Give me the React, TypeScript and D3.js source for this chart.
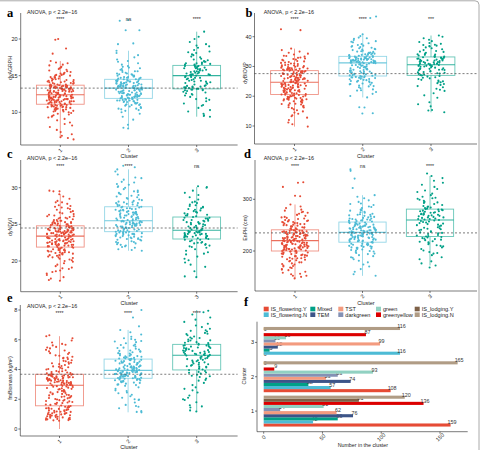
import React from 'react';
import * as d3 from 'd3';

// ---- shared categories / palette ----
const clusters = ['1', '2', '3'];
const clusterColors = ['#E64B35', '#4DBBD5', '#00A087'];
const anovaText = 'ANOVA, p < 2.2e\u221216';

// ---- a: dyAGRPH ----
const agrphC1 = [
  6.3, 6.5, 6.6, 6.8, 7.0, 7.3, 7.6, 8.0, 8.2, 8.4, 8.6, 8.9, 9.1, 9.3, 9.4, 9.5, 9.6, 9.7, 9.8, 9.9,
  10.0, 10.1, 10.1, 10.2, 10.2, 10.3, 10.3, 10.4, 10.4, 10.5, 10.5, 10.6, 10.6, 10.6, 10.7, 10.7, 10.8, 10.8, 10.8, 10.9,
  10.9, 10.9, 11.0, 11.0, 11.0, 11.0, 11.1, 11.1, 10.7, 10.4,
  11.2, 11.2, 11.2, 11.3, 11.3, 11.3, 11.4, 11.4, 11.4, 11.5, 11.5, 11.5, 11.5, 11.6, 11.6, 11.6, 11.7, 11.7, 11.7, 11.8,
  11.8, 11.8, 11.8, 11.9, 11.9, 11.9, 12.0, 12.0, 12.0, 12.0, 12.1, 12.1, 12.1, 12.2, 12.2, 12.2, 12.3, 12.3, 12.3, 12.4,
  11.6, 11.9, 12.1, 11.3, 12.2, 11.7, 12.0, 11.5, 12.4, 11.8,
  12.5, 12.5, 12.5, 12.6, 12.6, 12.6, 12.7, 12.7, 12.7, 12.8, 12.8, 12.8, 12.9, 12.9, 12.9, 13.0, 13.0, 13.0, 13.1, 13.1,
  13.1, 13.2, 13.2, 13.2, 13.3, 13.3, 13.3, 13.4, 13.4, 13.4, 13.5, 13.5, 13.5, 13.6, 13.6, 13.6, 13.7, 13.7, 12.6, 12.9,
  13.2, 13.5, 12.7, 13.0, 13.4, 12.8, 13.1, 13.3, 12.5, 13.6,
  13.8, 13.8, 13.9, 13.9, 14.0, 14.0, 14.1, 14.1, 14.2, 14.2, 14.3, 14.3, 14.4, 14.4, 14.5, 14.5, 14.6, 14.7, 14.8, 14.9,
  15.0, 15.0, 15.1, 15.2, 15.3, 15.4, 15.5, 15.6, 15.7, 15.8, 15.9, 16.0, 16.1, 16.2, 16.4, 16.5, 16.7, 16.8, 17.0, 13.8,
  14.0, 14.2, 14.6, 15.1, 18.0, 18.7, 19.9, 20.0, 14.8, 15.3,
];
const agrphC2 = [
  7.8, 7.9, 8.3, 9.0, 9.4, 9.8, 10.0, 10.2, 10.4, 10.5, 10.5, 10.6, 10.7, 10.8, 10.9, 11.0, 11.0, 11.1, 11.1, 11.2,
  11.2, 11.3, 11.3, 11.4, 11.4, 11.5, 11.5, 11.5, 11.6, 11.6, 11.6, 11.7, 11.7, 11.7, 11.8, 11.8, 11.8, 11.9, 11.9, 10.3, 11.0,
  12.0, 12.0, 12.0, 12.1, 12.1, 12.1, 12.2, 12.2, 12.2, 12.3, 12.3, 12.3, 12.4, 12.4, 12.4, 12.5, 12.5, 12.5, 12.6, 12.6,
  12.6, 12.7, 12.7, 12.7, 12.8, 12.8, 12.8, 12.9, 12.9, 12.9, 13.0, 13.0, 13.0, 13.1, 13.1, 13.1, 13.2, 13.2, 13.3, 12.6, 12.4,
  13.4, 13.4, 13.4, 13.5, 13.5, 13.5, 13.6, 13.6, 13.6, 13.7, 13.7, 13.7, 13.8, 13.8, 13.8, 13.9, 13.9, 13.9, 14.0, 14.0,
  14.0, 14.1, 14.1, 14.1, 14.2, 14.2, 14.2, 14.3, 14.3, 14.3, 14.4, 14.4, 14.4, 14.5, 14.5, 13.6, 13.9, 14.2, 13.5, 14.0, 14.3,
  14.6, 14.6, 14.7, 14.7, 14.8, 14.8, 14.9, 15.0, 15.0, 15.1, 15.2, 15.3, 15.3, 15.4, 15.5, 15.6, 15.7, 15.8, 15.9, 16.0,
  16.2, 16.3, 16.5, 16.7, 16.9, 17.0, 17.2, 17.5, 17.8, 18.1, 18.4, 14.9, 15.2, 15.6, 16.1, 19.3, 19.4, 21.2, 21.2, 22.5, 22.6, 14.7,
];
const agrphC3 = [
  9.4, 9.5, 9.6, 9.8, 10.3, 10.6, 10.9, 11.0, 11.2, 11.5, 11.7, 11.9, 12.1, 12.3, 12.4, 12.6, 12.7, 12.8, 12.9, 13.0,
  13.0, 13.1, 13.1, 13.2, 13.2, 12.5, 11.8, 13.1, 10.1,
  13.3, 13.3, 13.4, 13.4, 13.5, 13.5, 13.6, 13.7, 13.8, 13.9, 14.0, 14.0, 14.1, 14.2, 14.3, 14.3, 14.4, 14.5, 14.5, 14.6,
  14.7, 14.7, 14.8, 14.9, 15.0, 13.6, 14.2, 14.8, 13.4,
  15.0, 15.1, 15.1, 15.2, 15.2, 15.3, 15.3, 15.4, 15.5, 15.5, 15.6, 15.6, 15.7, 15.7, 15.8, 15.9, 15.9, 16.0, 16.0, 16.1,
  16.2, 16.2, 16.3, 16.3, 16.4, 15.4, 15.8, 16.1, 15.2,
  16.5, 16.5, 16.6, 16.6, 16.7, 16.8, 16.9, 17.0, 17.1, 17.3, 17.5, 17.6, 17.8, 17.9, 18.1, 18.2, 18.3, 18.5, 18.8, 19.0,
  19.1, 19.3, 19.6, 20.0, 20.3, 21.0, 16.7, 17.2, 16.9,
];
// [lower whisker, Q1, median, Q3, upper whisker] per cluster
const agrphBoxes = [[6.6, 11.1, 12.4, 13.7, 17.0], [7.8, 11.9, 13.3, 14.5, 18.4], [9.4, 13.2, 15.0, 16.4, 21.0]];
const agrphOverall = 13.3;
const agrphTicks = [10, 15, 20];
const agrphSig = ['****', 'ns', '****'];

// ---- b: dyBIOVP ----
const biovpC1 = [
  9.8, 10.6, 11.2, 12.0, 12.8, 13.3, 13.6, 14.1, 14.5, 14.9, 15.3, 15.6, 16.0, 16.2, 16.5, 16.8, 17.0, 17.2, 17.4, 17.6,
  17.8, 18.0, 18.2, 18.3, 18.5, 18.6, 18.8, 18.9, 19.0, 19.1, 19.2, 19.3, 19.4, 19.5, 19.6, 19.7, 19.8, 19.9, 20.0, 20.1,
  20.2, 20.3, 20.4, 20.5, 20.6, 19.0, 17.5, 16.3, 20.2, 18.7,
  20.7, 20.8, 20.9, 21.0, 21.1, 21.2, 21.3, 21.4, 21.5, 21.6, 21.7, 21.8, 21.9, 22.0, 22.1, 22.2, 22.3, 22.4, 22.5, 22.6,
  22.7, 22.8, 22.9, 23.0, 23.1, 23.2, 23.3, 23.4, 23.5, 23.6, 23.7, 23.8, 23.9, 24.0, 24.1, 24.2, 24.3, 24.4, 24.5, 24.6,
  24.7, 21.5, 22.3, 23.1, 23.9, 24.4, 22.8, 21.9, 24.0, 23.5,
  24.8, 24.9, 25.0, 25.1, 25.2, 25.3, 25.4, 25.5, 25.6, 25.7, 25.8, 25.9, 26.0, 26.1, 26.2, 26.3, 26.4, 26.5, 26.6, 26.7,
  26.8, 26.9, 27.0, 27.1, 27.2, 27.3, 27.4, 27.5, 27.6, 27.7, 27.8, 27.9, 28.0, 28.1, 28.2, 28.3, 28.4, 28.5, 28.6, 25.2,
  26.0, 26.8, 27.5, 28.2, 25.6, 24.9, 27.1, 26.4, 28.5, 25.9,
  28.7, 28.8, 28.9, 29.0, 29.1, 29.2, 29.3, 29.4, 29.5, 29.6, 29.8, 30.0, 30.2, 30.4, 30.6, 30.8, 31.0, 31.2, 31.5, 31.8,
  32.0, 32.2, 32.5, 32.7, 33.0, 33.3, 33.6, 34.0, 34.3, 34.6, 35.0, 35.5, 36.0, 29.0, 29.4, 29.9, 30.5, 31.0, 31.7, 32.3,
  32.9, 33.5, 28.9, 29.7, 30.3, 31.3, 42.2, 42.5, 30.1, 29.2,
];
const biovpC2 = [
  14.2, 14.3, 16.2, 16.3, 19.6, 20.1, 20.8, 21.4, 21.9, 22.3, 22.7, 23.0, 23.3, 23.6, 23.9, 24.1, 24.3, 24.5, 24.7, 24.9,
  25.1, 25.2, 25.4, 25.5, 25.7, 25.8, 25.9, 26.0, 26.1, 26.2, 26.3, 26.4, 26.5, 26.6, 26.7, 26.8, 22.0, 24.0, 25.0, 26.4, 23.4,
  26.9, 27.0, 27.1, 27.2, 27.4, 27.5, 27.6, 27.8, 27.9, 28.0, 28.2, 28.3, 28.4, 28.6, 28.7, 28.8, 29.0, 29.1, 29.2, 29.4,
  29.5, 29.6, 29.8, 29.9, 30.0, 30.2, 30.3, 30.4, 30.6, 30.7, 30.8, 31.0, 31.1, 31.2, 27.3, 28.1, 28.9, 29.7, 30.5, 31.1, 27.7,
  31.3, 31.3, 31.4, 31.4, 31.5, 31.5, 31.6, 31.6, 31.7, 31.7, 31.8, 31.8, 31.9, 31.9, 32.0, 32.0, 32.1, 32.1, 32.2, 32.2,
  32.3, 32.4, 32.4, 32.5, 32.6, 32.6, 32.7, 32.8, 32.8, 32.9, 33.0, 33.0, 33.1, 33.2, 33.2, 33.3, 33.4, 31.5, 32.3, 32.9, 31.9,
  33.5, 33.6, 33.7, 33.8, 33.9, 34.0, 34.1, 34.3, 34.5, 34.7, 34.9, 35.1, 35.3, 35.5, 35.7, 35.9, 36.1, 36.3, 36.6, 36.9,
  37.2, 37.5, 37.8, 38.1, 38.5, 38.9, 39.3, 39.7, 40.2, 40.8, 34.2, 35.0, 35.8, 36.5, 37.0, 33.9, 34.6, 46.3, 46.8, 38.3, 39.5, 34.4,
];
const biovpC3 = [
  14.6, 15.2, 15.4, 16.6, 17.3, 18.0, 19.5, 20.3, 21.0, 21.8, 22.5, 23.0, 23.4, 23.8, 24.1, 24.4, 24.7, 25.0, 25.3, 25.5,
  25.8, 26.0, 26.2, 26.4, 26.6, 26.8, 27.0, 22.2, 24.9,
  27.1, 27.3, 27.5, 27.7, 27.9, 28.1, 28.3, 28.5, 28.7, 28.8, 29.0, 29.1, 29.3, 29.4, 29.6, 29.7, 29.9, 30.0, 30.1, 30.2,
  30.3, 30.4, 30.5, 30.6, 28.0, 29.2, 30.2, 27.6, 28.9,
  30.7, 30.8, 30.9, 31.0, 31.1, 31.2, 31.3, 31.4, 31.5, 31.6, 31.7, 31.8, 31.9, 32.0, 32.1, 32.2, 32.3, 32.4, 32.5, 32.6,
  32.7, 32.8, 32.9, 33.0, 33.1, 33.2, 31.5, 32.0, 30.9,
  33.3, 33.4, 33.5, 33.7, 33.9, 34.1, 34.3, 34.6, 34.9, 35.2, 35.5, 35.8, 36.1, 36.4, 36.7, 37.0, 37.3, 37.6, 37.9, 38.2,
  38.5, 39.0, 39.5, 40.0, 40.4, 34.0, 35.0, 36.9, 37.2,
];
const biovpBoxes = [[9.8, 20.6, 24.7, 28.6, 36.0], [19.6, 26.8, 31.2, 33.4, 40.8], [14.6, 27.0, 30.6, 33.2, 40.4]];
const biovpOverall = 27.6;
const biovpTicks = [10, 20, 30, 40];
const biovpSig = ['****', '****', '***'];

// ---- c: dyNDVI ----
const ndviC1 = [
  17.3, 17.4, 17.6, 17.8, 18.1, 18.3, 18.5, 18.7, 18.9, 19.1, 19.3, 19.5, 19.7, 19.9, 20.0, 20.1, 20.2, 20.3, 20.4, 20.5,
  20.6, 20.7, 20.8, 20.9, 21.0, 21.0, 21.1, 21.1, 21.2, 21.2, 21.3, 21.3, 21.4, 21.4, 21.5, 21.5, 21.6, 21.6, 21.7, 21.7,
  21.8, 21.8, 21.9, 21.9, 19.0, 20.5, 21.2, 18.6, 20.8, 21.5,
  22.0, 22.0, 22.0, 22.1, 22.1, 22.1, 22.2, 22.2, 22.2, 22.3, 22.3, 22.3, 22.4, 22.4, 22.4, 22.5, 22.5, 22.5, 22.6, 22.6,
  22.6, 22.7, 22.7, 22.7, 22.8, 22.8, 22.8, 22.9, 22.9, 22.9, 23.0, 23.0, 23.0, 23.1, 23.1, 23.1, 23.2, 23.2, 23.2, 23.3,
  23.3, 23.3, 23.4, 23.4, 22.5, 22.9, 23.2, 22.2, 22.7, 23.0,
  23.5, 23.5, 23.5, 23.6, 23.6, 23.6, 23.7, 23.7, 23.7, 23.8, 23.8, 23.8, 23.9, 23.9, 23.9, 24.0, 24.0, 24.0, 24.1, 24.1,
  24.1, 24.2, 24.2, 24.2, 24.3, 24.3, 24.3, 24.4, 24.4, 24.4, 24.5, 24.5, 24.5, 24.6, 24.6, 24.6, 24.7, 24.7, 24.7, 24.8,
  24.8, 23.6, 24.0, 24.4, 23.8, 24.2, 24.6, 23.9, 24.3, 24.1,
  24.9, 24.9, 25.0, 25.0, 25.1, 25.1, 25.2, 25.2, 25.3, 25.4, 25.5, 25.6, 25.7, 25.8, 25.9, 26.0, 26.1, 26.2, 26.4, 26.6,
  26.8, 27.0, 27.2, 27.4, 27.6, 27.8, 28.0, 28.2, 28.5, 28.8, 29.1, 25.0, 25.3, 25.6, 25.9, 26.3, 26.7, 27.1, 27.5, 28.0,
  25.2, 25.5, 25.8, 26.1, 26.5, 29.5, 29.6, 29.5, 25.4, 27.3,
];
const ndviC2 = [
  21.4, 21.5, 21.6, 21.8, 22.0, 22.1, 22.3, 22.4, 22.5, 22.6, 22.7, 22.8, 22.9, 23.0, 23.0, 23.1, 23.2, 23.2, 23.3, 23.4,
  23.4, 23.5, 23.5, 23.6, 23.6, 23.7, 23.7, 23.8, 23.8, 23.9, 23.9, 24.0, 24.0, 22.2, 22.9, 23.3, 23.7, 21.9, 22.6, 23.1, 23.9,
  24.1, 24.1, 24.2, 24.2, 24.3, 24.3, 24.4, 24.4, 24.5, 24.5, 24.6, 24.6, 24.7, 24.7, 24.8, 24.8, 24.9, 24.9, 25.0, 25.0,
  25.1, 25.1, 25.2, 25.2, 25.3, 25.3, 25.4, 25.4, 25.5, 25.5, 24.3, 24.6, 24.9, 25.2, 24.1, 24.7, 25.0, 25.4, 24.4, 24.8, 25.1,
  25.6, 25.7, 25.8, 25.9, 26.0, 26.1, 26.2, 26.3, 26.4, 26.5, 26.6, 26.7, 26.8, 26.9, 27.0, 27.1, 27.2, 27.3, 27.4, 25.7,
  25.9, 26.1, 26.3, 26.5, 26.7, 26.9, 27.1, 27.3, 25.6, 25.8, 26.0, 26.2, 26.4, 26.6, 26.8, 27.0, 27.2, 27.4, 26.3, 25.9, 26.6,
  27.5, 27.6, 27.7, 27.8, 27.9, 28.0, 28.1, 28.2, 28.4, 28.6, 28.8, 29.0, 29.2, 29.4, 29.6, 29.8, 30.0, 30.2, 30.5, 30.8,
  31.1, 31.4, 31.8, 32.2, 32.5, 33.0, 32.8, 27.6, 27.9, 28.3, 28.7, 29.1, 29.5, 30.1, 30.7, 31.3, 27.7, 28.0, 28.5, 29.3, 30.4, 28.9,
];
const ndviC3 = [
  17.8, 17.9, 18.6, 19.2, 19.8, 20.3, 20.6, 20.9, 21.2, 21.4, 21.6, 21.8, 22.0, 22.1, 22.2, 22.3, 22.4, 22.5, 22.6, 22.7,
  22.8, 22.9, 23.0, 21.0, 22.5, 19.5, 20.1, 22.9, 21.9,
  23.1, 23.1, 23.2, 23.2, 23.3, 23.3, 23.4, 23.4, 23.5, 23.5, 23.6, 23.6, 23.7, 23.7, 23.8, 23.8, 23.9, 23.9, 24.0, 24.0,
  24.1, 24.1, 24.2, 24.2, 23.4, 23.7, 24.0, 23.3, 23.9,
  24.3, 24.4, 24.5, 24.6, 24.7, 24.8, 24.9, 25.0, 25.1, 25.2, 25.3, 25.4, 25.5, 25.6, 25.7, 25.8, 25.9, 26.0, 24.4, 24.7,
  25.0, 25.3, 25.6, 25.9, 24.6, 25.1, 25.5, 24.3, 25.8,
  26.1, 26.2, 26.3, 26.5, 26.7, 26.9, 27.1, 27.3, 27.5, 27.7, 27.9, 28.1, 28.4, 28.7, 29.0, 29.3, 29.6, 30.0, 30.1, 30.2,
  26.4, 26.8, 27.2, 27.6, 28.0, 26.6, 27.0, 27.4, 26.2,
];
const ndviBoxes = [[17.3, 21.9, 23.4, 24.8, 29.1], [21.4, 24.0, 25.5, 27.4, 32.5], [17.8, 23.0, 24.2, 26.0, 30.1]];
const ndviOverall = 24.5;
const ndviTicks = [20, 25, 30];
const ndviSig = ['****', '****', 'ns'];

// ---- d: EnPH (cm) ----
const enphC1 = [
  147, 150, 152, 155, 158, 160, 163, 165, 167, 170, 172, 174, 176, 178, 180, 182, 183, 185, 186, 188,
  189, 190, 191, 192, 193, 194, 195, 196, 197, 198, 199, 200, 152, 168, 175, 181, 187, 192, 196, 199,
  184, 178, 190, 194, 171, 164, 156, 186, 197, 200,
  201, 201, 202, 203, 203, 204, 205, 205, 206, 207, 207, 208, 209, 209, 210, 211, 211, 212, 213, 213,
  214, 215, 215, 216, 217, 217, 218, 219, 219, 220, 202, 204, 206, 208, 210, 212, 214, 216, 218, 220,
  203, 207, 211, 215, 219, 205, 209, 213, 217, 210,
  221, 221, 222, 223, 223, 224, 225, 225, 226, 227, 227, 228, 229, 229, 230, 231, 231, 232, 233, 233,
  234, 235, 235, 236, 237, 237, 238, 239, 239, 240, 241, 222, 224, 226, 228, 230, 232, 234, 236, 238,
  240, 223, 227, 231, 235, 239, 225, 229, 233, 237,
  242, 243, 244, 245, 246, 247, 248, 249, 250, 251, 252, 253, 254, 255, 256, 257, 258, 259, 260, 262,
  264, 266, 268, 270, 272, 274, 276, 278, 280, 283, 286, 290, 244, 248, 252, 256, 260, 265, 270, 275,
  246, 250, 254, 258, 263, 306, 307, 324, 333, 332,
];
const enphC2 = [
  152, 155, 160, 165, 170, 174, 178, 181, 184, 187, 190, 192, 194, 196, 198, 200, 202, 203, 204, 205,
  206, 207, 208, 209, 210, 211, 212, 213, 214, 215, 216, 217, 195, 201, 206, 210, 214, 188, 199, 208, 213,
  218, 218, 219, 220, 220, 221, 222, 222, 223, 224, 224, 225, 226, 226, 227, 228, 228, 229, 230, 230,
  231, 232, 232, 233, 234, 234, 235, 236, 236, 219, 221, 223, 225, 227, 229, 231, 233, 235, 227, 230, 233,
  237, 238, 238, 239, 240, 240, 241, 242, 242, 243, 244, 244, 245, 246, 246, 247, 248, 248, 249, 250,
  251, 252, 253, 254, 255, 256, 239, 241, 243, 245, 247, 249, 251, 253, 255, 240, 244, 248, 252, 238, 246,
  257, 258, 259, 260, 261, 262, 263, 264, 266, 268, 270, 272, 274, 276, 278, 280, 283, 286, 289, 292,
  295, 298, 302, 305, 308, 259, 263, 267, 271, 275, 279, 285, 291, 260, 265, 270, 322, 340, 355, 358, 261, 269,
];
const enphC3 = [
  168, 172, 176, 180, 184, 188, 192, 195, 198, 201, 204, 207, 209, 211, 213, 215, 217, 219, 221, 223,
  224, 225, 226, 227, 228, 196, 210, 218, 222,
  229, 230, 231, 233, 234, 235, 237, 238, 240, 241, 242, 244, 245, 246, 248, 249, 250, 252, 253, 254,
  256, 257, 258, 259, 260, 236, 243, 251, 255,
  261, 262, 263, 264, 265, 266, 267, 268, 269, 270, 271, 272, 273, 274, 275, 276, 277, 278, 279, 280,
  281, 262, 265, 268, 271, 274, 277, 280, 270,
  282, 283, 284, 285, 287, 289, 291, 293, 295, 297, 299, 301, 303, 305, 308, 311, 314, 317, 320, 324,
  328, 332, 336, 341, 345, 350, 286, 294, 302,
];
const enphBoxes = [[147, 200, 220, 241, 290], [152, 217, 236, 256, 308], [172, 228, 260, 281, 345]];
const enphOverall = 235;
const enphTicks = [200, 300];
const enphSig = ['****', 'ns', '****'];

// ---- e: fmBiomass ----
const biomassC1 = [
  0.55, 0.58, 0.62, 0.65, 0.68, 0.72, 0.75, 0.78, 0.82, 0.85, 0.88, 0.92, 0.95, 0.98, 1.02, 1.05, 1.08, 1.12, 1.15, 1.18,
  1.22, 1.25, 1.28, 1.32, 1.35, 1.38, 1.42, 1.45, 1.48, 1.52, 1.55, 0.6, 0.7, 0.8, 0.9, 1.0, 1.1, 1.2, 1.3, 1.4,
  1.5, 0.66, 0.86, 1.06, 1.26, 1.46, 0.76, 0.96, 1.16, 1.36,
  1.58, 1.62, 1.65, 1.70, 1.74, 1.78, 1.82, 1.86, 1.90, 1.94, 1.98, 2.02, 2.06, 2.10, 2.14, 2.18, 2.22, 2.26, 2.30, 2.34,
  2.38, 2.42, 2.46, 2.50, 2.54, 2.58, 2.62, 2.66, 2.70, 2.74, 2.78, 2.82, 2.86, 2.90, 2.94, 1.68, 1.88, 2.08, 2.28, 2.48,
  2.68, 2.88, 1.76, 1.96, 2.16, 2.36, 2.56, 2.76, 2.92, 2.84,
  2.96, 2.98, 3.00, 3.02, 3.04, 3.06, 3.08, 3.10, 3.12, 3.14, 3.16, 3.18, 3.20, 3.22, 3.24, 3.26, 3.28, 3.30, 3.32, 3.34,
  3.36, 3.38, 3.40, 3.42, 3.44, 3.46, 3.48, 3.50, 3.52, 3.54, 3.56, 3.58, 3.60, 3.62, 3.64, 3.66, 3.68, 3.05, 3.15, 3.25,
  3.35, 3.45, 3.55, 3.65, 2.97, 3.11, 3.29, 3.47, 3.61, 3.39,
  3.72, 3.76, 3.80, 3.85, 3.90, 3.95, 4.00, 4.06, 4.12, 4.18, 4.24, 4.30, 4.36, 4.42, 4.48, 4.55, 4.62, 4.70, 4.78, 4.86,
  4.95, 5.04, 5.13, 5.22, 5.32, 5.42, 5.52, 5.62, 5.72, 5.82, 5.95, 6.10, 6.24, 3.74, 3.88, 4.03, 4.21, 4.39, 4.58, 4.75,
  4.92, 5.10, 5.28, 5.48, 5.66, 3.83, 4.15, 4.45, 4.80, 6.30,
];
const biomassC2 = [
  1.12, 1.15, 1.20, 1.40, 1.55, 1.62, 1.78, 1.95, 2.00, 2.10, 2.30, 2.45, 2.55, 2.70, 2.80, 2.90, 2.98, 3.05, 3.10, 3.15,
  3.18, 3.21, 3.24, 3.27, 3.30, 3.33, 3.36, 3.39, 3.41, 2.20, 2.60, 2.95, 3.20, 3.35, 1.50, 2.40, 3.00, 3.12, 3.28, 3.38, 1.98,
  3.43, 3.45, 3.47, 3.49, 3.51, 3.53, 3.55, 3.57, 3.59, 3.61, 3.63, 3.65, 3.67, 3.69, 3.71, 3.73, 3.75, 3.77, 3.79, 3.81,
  3.83, 3.85, 3.87, 3.89, 3.91, 3.93, 3.94, 3.50, 3.60, 3.70, 3.80, 3.90, 3.46, 3.56, 3.66, 3.76, 3.86, 3.64, 3.74, 3.84, 3.54,
  3.96, 3.98, 4.00, 4.02, 4.04, 4.06, 4.08, 4.10, 4.12, 4.14, 4.16, 4.18, 4.20, 4.23, 4.26, 4.29, 4.32, 4.35, 4.38, 4.41,
  4.44, 4.47, 4.50, 4.53, 4.56, 4.59, 4.62, 4.65, 4.68, 4.70, 4.05, 4.15, 4.25, 4.35, 4.45, 4.55, 4.65, 4.01, 4.22, 4.43, 4.64,
  4.72, 4.75, 4.78, 4.82, 4.86, 4.90, 4.95, 5.00, 5.05, 5.10, 5.16, 5.22, 5.28, 5.34, 5.40, 5.47, 5.54, 5.61, 5.68, 5.76,
  5.84, 5.92, 6.00, 6.10, 6.20, 6.35, 6.50, 6.66, 4.80, 4.93, 5.08, 5.25, 5.45, 5.65, 5.88, 6.05, 4.74, 4.88, 6.90, 7.50, 8.00, 5.20,
];
const biomassC3 = [
  1.18, 1.25, 1.45, 1.60, 1.80, 1.95, 2.10, 2.25, 2.45, 2.60, 2.80, 2.95, 3.10, 3.25, 3.40, 3.50, 3.58, 3.65, 3.72, 3.78,
  3.84, 3.90, 3.96, 2.00, 2.70, 3.30, 3.55, 3.80, 1.52,
  4.00, 4.05, 4.10, 4.14, 4.18, 4.22, 4.26, 4.30, 4.35, 4.40, 4.45, 4.50, 4.55, 4.60, 4.65, 4.70, 4.74, 4.78, 4.82, 4.86,
  4.90, 4.94, 4.96, 4.20, 4.48, 4.72, 4.88, 4.33, 4.62,
  4.98, 5.00, 5.03, 5.06, 5.09, 5.12, 5.15, 5.18, 5.21, 5.24, 5.27, 5.30, 5.33, 5.36, 5.39, 5.42, 5.45, 5.48, 5.51, 5.54,
  5.57, 5.60, 5.63, 5.66, 5.69, 5.05, 5.25, 5.45, 5.62,
  5.72, 5.78, 5.84, 5.90, 5.96, 6.02, 6.08, 6.15, 6.22, 6.30, 6.38, 6.46, 6.55, 6.64, 6.74, 6.85, 6.96, 7.08, 7.20, 7.35,
  7.50, 7.70, 7.85, 7.95, 5.80, 5.95, 6.12, 6.40, 6.60,
];
const biomassBoxes = [[0.0, 1.56, 2.94, 3.68, 6.24], [1.12, 3.41, 3.94, 4.70, 6.66], [1.16, 3.97, 4.96, 5.69, 8.0]];
const biomassOverall = 3.68;
const biomassTicks = [0, 2, 4, 6, 8];
const biomassSig = ['****', '****', '****'];

// ---- f: counts per cluster ----
const groupNames = ['IS_flowering.Y', 'IS_flowering.N', 'Mixed', 'TEM', 'TST', 'darkgreen', 'green', 'greenyellow', 'IS_lodging.Y', 'IS_lodging.N'];
const groupColors = ['#E64B35', '#4DBBD5', '#00A087', '#3C5488', '#F39B7F', '#8491B4', '#91D1C2', '#DC0000', '#7E6148', '#B09C85'];
const countsCluster1 = [159, 42, 63, 76, 62, 14, 51, 136, 81, 120];
const countsCluster2 = [108, 57, 38, 74, 53, 63, 93, 9, 0, 165];
const countsCluster3 = [0, 116, 5, 12, 99, 10, 19, 87, 0, 116];
const countTicks = [0, 50, 100, 150];

const SANS = '"Liberation Sans", Arial, Helvetica, sans-serif';
const SERIF = '"Liberation Serif", "Times New Roman", serif';
const INK = '#222';

type BoxProps = {
  letter: string; letterPos: [number, number];
  titlePos: [number, number];
  frame: { left: number; right: number; top: number; bottom: number };
  xRange: [number, number];
  yDomain: [number, number]; yRange: [number, number];
  ticks: number[];
  series: number[][];
  boxes: number[][];
  overall: number;
  sig: string[]; sigY: number;
  yTitle: string; yTitlePos: [number, number];
  xTitleY: number;
  seed: number;
};

function BoxPanel(p: BoxProps) {
  const y = d3.scaleLinear().domain(p.yDomain).range(p.yRange);
  const x = d3.scalePoint<string>().domain(clusters).range(p.xRange);
  const step = (p.xRange[1] - p.xRange[0]) / 2;
  const boxW = step * 0.7;
  const { left, right, top, bottom } = p.frame;

  const jitterPts = p.series.map((vals, ci) => {
    const rand = d3.randomUniform.source(d3.randomLcg(p.seed + ci * 0.1))(-0.2 * step, 0.2 * step);
    return vals.map((v) => ({ cx: (x(clusters[ci]) as number) + rand(), cy: y(v) }));
  });

  return (
    <g fontFamily={SANS}>
      {/* boxes */}
      {p.boxes.map(([lo, q1, med, q3, hi], ci) => {
        const cx = x(clusters[ci]) as number;
        const col = clusterColors[ci];
        return (
          <g key={'b' + ci} stroke={col} strokeOpacity={0.6} strokeWidth={0.9} fill="none">
            <line x1={cx} x2={cx} y1={y(hi)} y2={y(q3)} />
            <line x1={cx} x2={cx} y1={y(q1)} y2={y(lo)} />
            <rect x={cx - boxW / 2} y={y(q3)} width={boxW} height={y(q1) - y(q3)} fill="#fff" />
            <line x1={cx - boxW / 2} x2={cx + boxW / 2} y1={y(med)} y2={y(med)} strokeWidth={1.1} strokeOpacity={0.8} />
          </g>
        );
      })}
      {/* jittered observations */}
      {jitterPts.map((pts, ci) => (
        <g key={'p' + ci} fill={clusterColors[ci]}>
          {pts.map((d, i) => <circle key={i} cx={d.cx} cy={d.cy} r={1.05} />)}
        </g>
      ))}
      {/* overall mean reference */}
      <line x1={left} x2={right} y1={y(p.overall)} y2={y(p.overall)} stroke="#444" strokeWidth={0.7} strokeDasharray="2,2" />
      {/* axes */}
      <line x1={left} x2={left} y1={top} y2={bottom} stroke={INK} strokeWidth={0.6} />
      <line x1={left} x2={right} y1={bottom} y2={bottom} stroke={INK} strokeWidth={0.6} />
      {p.ticks.map((t) => (
        <g key={'t' + t}>
          <line x1={left - 2} x2={left} y1={y(t)} y2={y(t)} stroke={INK} strokeWidth={0.6} />
          <text x={left - 3} y={y(t)} dy="0.35em" textAnchor="end" fontSize={5.5} fill={INK}>{t}</text>
        </g>
      ))}
      {clusters.map((c) => (
        <g key={'x' + c}>
          <line x1={x(c)} x2={x(c)} y1={bottom} y2={bottom + 2} stroke={INK} strokeWidth={0.6} />
          <text transform={`translate(${x(c)},${bottom + 5.2}) rotate(-45)`} textAnchor="middle" dy="0.35em" fontSize={5.5} fill={INK}>{c}</text>
        </g>
      ))}
      <text x={(left + right) / 2} y={p.xTitleY} textAnchor="middle" fontSize={5.5} fill={INK}>Cluster</text>
      <text transform={`translate(${p.yTitlePos[0]},${p.yTitlePos[1]}) rotate(-90)`} textAnchor="middle" fontSize={5.2} fill={INK}>{p.yTitle}</text>
      {/* significance vs overall */}
      {p.sig.map((s, ci) => (
        <text key={'s' + ci} x={x(clusters[ci])} y={p.sigY} textAnchor="middle" fontSize={5.2} fill={INK}>{s}</text>
      ))}
      <text x={p.titlePos[0]} y={p.titlePos[1]} fontSize={5.4} fill={INK}>{anovaText}</text>
      <text x={p.letterPos[0]} y={p.letterPos[1]} fontFamily={SERIF} fontWeight="bold" fontSize={12.5} fill="#000">{p.letter}</text>
    </g>
  );
}

function CountPanel() {
  const x = d3.scaleLinear().domain([0, 150]).range([263.7, 440]);
  const yc = d3.scalePoint<string>().domain(clusters).range([411.1, 342.4]);
  const unit = (411.1 - 342.4) / 2;
  const bw = unit * 0.9;
  const inner = d3.scaleBand<string>().domain(groupNames).range([bw / 2, -bw / 2]);
  const counts = [countsCluster1, countsCluster2, countsCluster3];
  const axisX = 257, axisY = 431.7, axisTop = 321.7, axisRight = 467.7;

  return (
    <g fontFamily={SANS}>
      {counts.map((row, ci) => {
        const cy = yc(clusters[ci]) as number;
        return (
          <g key={'c' + ci}>
            {row.map((v, gi) => {
              const by = cy + (inner(groupNames[gi]) as number);
              return (
                <g key={gi}>
                  <rect x={x(0)} y={by} width={x(v) - x(0)} height={inner.bandwidth()} fill={groupColors[gi]} />
                  <text x={x(v) + 1.5} y={by + inner.bandwidth() / 2 - 0.6} textAnchor="middle" fontSize={5.4} fill="#333">{v}</text>
                </g>
              );
            })}
          </g>
        );
      })}
      <line x1={axisX} x2={axisX} y1={axisTop} y2={axisY} stroke={INK} strokeWidth={0.6} />
      <line x1={axisX} x2={axisRight} y1={axisY} y2={axisY} stroke={INK} strokeWidth={0.6} />
      {clusters.map((c) => (
        <g key={'yl' + c}>
          <line x1={axisX - 2} x2={axisX} y1={yc(c)} y2={yc(c)} stroke={INK} strokeWidth={0.6} />
          <text x={axisX - 3} y={yc(c)} dy="0.35em" textAnchor="end" fontSize={5.5} fill={INK}>{c}</text>
        </g>
      ))}
      {countTicks.map((t) => (
        <g key={'xt' + t}>
          <line x1={x(t)} x2={x(t)} y1={axisY} y2={axisY + 2} stroke={INK} strokeWidth={0.6} />
          <text transform={`translate(${x(t)},${axisY + 5.5}) rotate(-45)`} textAnchor="middle" dy="0.35em" fontSize={5.5} fill={INK}>{t}</text>
        </g>
      ))}
      <text x={(axisX + axisRight) / 2 + 0.5} y={446.5} textAnchor="middle" fontSize={5.3} fill={INK}>Number in the cluster</text>
      <text transform="translate(246,376) rotate(-90)" textAnchor="middle" fontSize={5.3} fill={INK}>Cluster</text>
      {/* legend, filled column by column */}
      {groupNames.map((g, gi) => {
        const colX = [263.7, 310.3, 338.3, 376, 414.7][Math.floor(gi / 2)];
        const rowY = [306.7, 312.4][gi % 2];
        return (
          <g key={'lg' + gi}>
            <rect x={colX} y={rowY} width={5} height={4.6} fill={groupColors[gi]} />
            <text x={colX + 7} y={rowY + 2.3} dy="0.35em" fontSize={5.6} fill={INK}>{g}</text>
          </g>
        );
      })}
      <text x={244} y={305.5} fontFamily={SERIF} fontWeight="bold" fontSize={12.5} fill="#000">f</text>
    </g>
  );
}

export default function App() {
  return (
    <svg width={482} height={450} viewBox="0 0 482 450" style={{ position: 'absolute', left: 0, top: 0, background: '#fff' }}>
      <rect x={0} y={0} width={482} height={450} fill="#fff" />
      <BoxPanel letter="a" letterPos={[7, 16.5]} titlePos={[27, 13.5]}
        frame={{ left: 20.7, right: 237.6, top: 13, bottom: 145 }} xRange={[60.3, 196.7]}
        yDomain={[10, 20]} yRange={[112.3, 39]} ticks={agrphTicks}
        series={[agrphC1, agrphC2, agrphC3]} boxes={agrphBoxes} overall={agrphOverall}
        sig={agrphSig} sigY={20.5} yTitle="dyAGRPH" yTitlePos={[12, 68]} xTitleY={157.5} seed={0.11} />
      <BoxPanel letter="b" letterPos={[245.5, 16.5]} titlePos={[263.7, 13.5]}
        frame={{ left: 254.5, right: 477, top: 13, bottom: 144 }} xRange={[294.5, 431]}
        yDomain={[10, 40]} yRange={[126, 36.7]} ticks={biovpTicks}
        series={[biovpC1, biovpC2, biovpC3]} boxes={biovpBoxes} overall={biovpOverall}
        sig={biovpSig} sigY={20.5} yTitle="dyBIOVP" yTitlePos={[247, 73]} xTitleY={157.5} seed={0.23} />
      <BoxPanel letter="c" letterPos={[7, 158]} titlePos={[27, 160]}
        frame={{ left: 20.7, right: 237.6, top: 160, bottom: 291.7 }} xRange={[60.3, 196.7]}
        yDomain={[20, 30]} yRange={[261, 187.7]} ticks={ndviTicks}
        series={[ndviC1, ndviC2, ndviC3]} boxes={ndviBoxes} overall={ndviOverall}
        sig={ndviSig} sigY={168} yTitle="dyNDVI" yTitlePos={[12, 227]} xTitleY={304.5} seed={0.37} />
      <BoxPanel letter="d" letterPos={[244, 158]} titlePos={[263.7, 160]}
        frame={{ left: 255, right: 477, top: 160, bottom: 291 }} xRange={[295, 430]}
        yDomain={[200, 300]} yRange={[251, 199.3]} ticks={enphTicks}
        series={[enphC1, enphC2, enphC3]} boxes={enphBoxes} overall={enphOverall}
        sig={enphSig} sigY={168} yTitle="EnPH (cm)" yTitlePos={[247, 228]} xTitleY={304.5} seed={0.49} />
      <BoxPanel letter="e" letterPos={[7, 301.5]} titlePos={[27, 307.5]}
        frame={{ left: 20.3, right: 237.6, top: 305, bottom: 436 }} xRange={[59.5, 196.7]}
        yDomain={[0, 8]} yRange={[429, 310]} ticks={biomassTicks}
        series={[biomassC1, biomassC2, biomassC3]} boxes={biomassBoxes} overall={biomassOverall}
        sig={biomassSig} sigY={314.5} yTitle="fmBiomass (kg/m²)" yTitlePos={[12, 378]} xTitleY={448.5} seed={0.61} />
      <CountPanel />
      {/* figure frame */}
      <path d="M0,0.8 H475 A4,4 0 0 1 479,4.8 V450" fill="none" stroke="#aaa" strokeWidth={1} />
    </svg>
  );
}
